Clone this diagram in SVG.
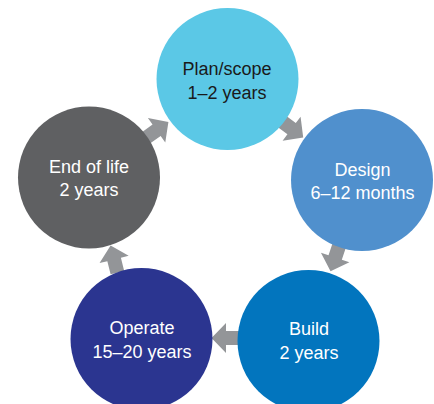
<svg xmlns="http://www.w3.org/2000/svg" width="434" height="404" viewBox="0 0 434 404">
  <style>
    .label { font-family: "Liberation Sans", Arial, sans-serif; font-size: 18px; text-anchor: middle; }
    .light { fill: #ffffff; }
    .dark { fill: #1a1a1a; }
    .arrow { fill: #939598; }
  </style>
  <defs>
    <!-- block arrow pointing along +x, centred on the origin -->
    <path id="blockArrow" d="M-14,-7 L-0.5,-7 L-0.5,-15 L14,0 L-0.5,15 L-0.5,7 L-14,7 Z"/>
  </defs>
  <rect width="434" height="404" fill="#ffffff"/>

  <g id="connectors">
    <use href="#blockArrow" class="arrow" transform="translate(157,130) rotate(-35.4)"/>
    <use href="#blockArrow" class="arrow" transform="translate(292,129) rotate(36.8)"/>
    <use href="#blockArrow" class="arrow" transform="translate(335,258) rotate(108.5)"/>
    <use href="#blockArrow" class="arrow" transform="translate(225.5,338) rotate(180)"/>
    <use href="#blockArrow" class="arrow" transform="translate(114,259) rotate(-104)"/>
  </g>

  <g id="plan-scope">
    <circle cx="227.5" cy="79" r="71" fill="#5BC8E6"/>
    <text class="label dark" x="227" y="75">Plan/scope</text>
    <text class="label dark" x="227" y="99">1–2 years</text>
  </g>

  <g id="design">
    <circle cx="362" cy="180" r="71" fill="#5090CD"/>
    <text class="label light" x="362.5" y="176">Design</text>
    <text class="label light" x="362.5" y="199">6–12 months</text>
  </g>

  <g id="build">
    <circle cx="308.5" cy="341" r="71" fill="#0275BE"/>
    <text class="label light" x="309" y="335">Build</text>
    <text class="label light" x="309" y="359">2 years</text>
  </g>

  <g id="operate">
    <circle cx="141.5" cy="339" r="71" fill="#2B3590"/>
    <text class="label light" x="142" y="334">Operate</text>
    <text class="label light" x="142" y="358">15–20 years</text>
  </g>

  <g id="end-of-life">
    <circle cx="89" cy="177.5" r="71" fill="#5F6062"/>
    <text class="label light" x="89" y="173">End of life</text>
    <text class="label light" x="89" y="196">2 years</text>
  </g>
</svg>
